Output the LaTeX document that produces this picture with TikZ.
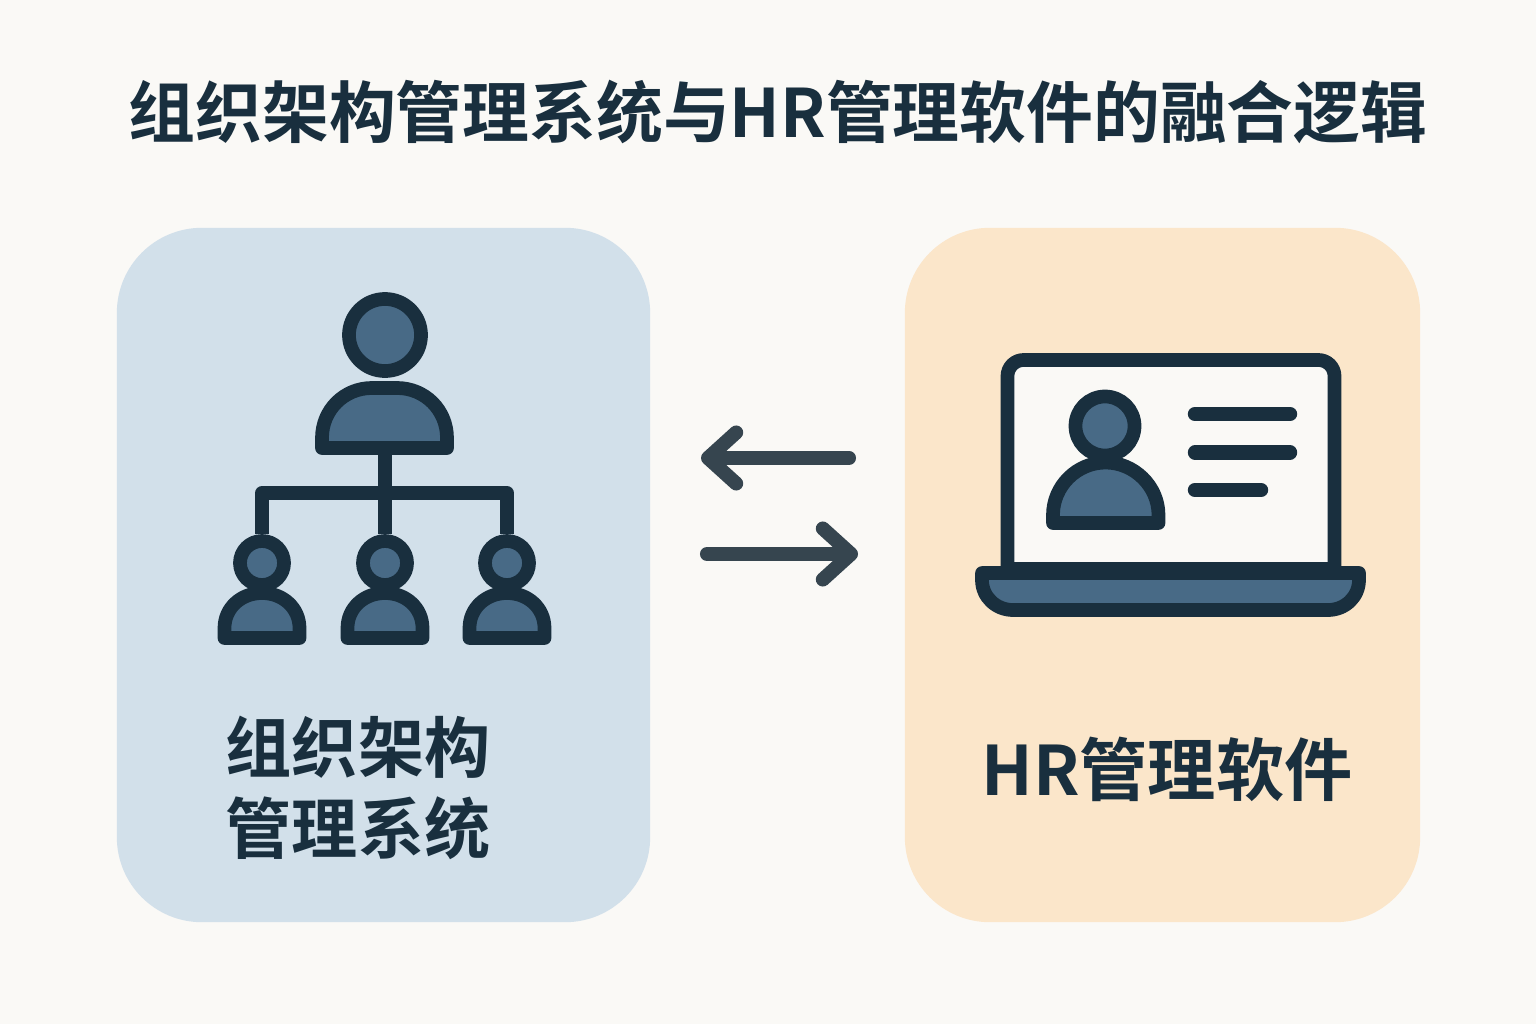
\documentclass[tikz,border=0pt]{standalone}
\usepackage{fontspec}
\setmainfont{Noto Sans CJK SC}[BoldFont={* Bold}]
\usetikzlibrary{arrows.meta}
\definecolor{pagebg}{HTML}{FAF9F6}
\definecolor{orgblue}{HTML}{D2E0EA}
\definecolor{hrpeach}{HTML}{FBE6CA}
\definecolor{inkdark}{HTML}{192F3E}
\definecolor{iconblue}{HTML}{486A86}
\definecolor{arrowgrey}{HTML}{36454F}
\tikzset{
    panel/.style={rectangle, rounded corners=0.85cm, minimum height=6.94cm},
    iconline/.style={draw=inkdark, fill=iconblue, line width=3.9pt, line join=round},
    headnode/.style={circle, iconline, inner sep=0pt},
    orgline/.style={draw=inkdark, line width=3.9pt, line join=round},
    textline/.style={draw=inkdark, line width=4.1pt, line cap=round},
    flowarrow/.style={draw=arrowgrey, line width=4pt, line cap=round,
        -{Straight Barb[round, length=8pt, width=14.5pt]}},
    headtext/.style={text=inkdark, font=\bfseries\fontsize{19pt}{23pt}\selectfont},
    labeltext/.style={text=inkdark, font=\bfseries\fontsize{18.8pt}{23pt}\selectfont, align=left}
}
\begin{document}
\begin{tikzpicture}[x=0.01cm, y=-0.01cm]
    \useasboundingbox (0,0) rectangle (1536,1024);
    \fill [pagebg] (0,0) rectangle (1536,1024);

    \node [headtext] (title) at (778,112) {组织架构管理系统与HR管理软件的融合逻辑};

    \node [panel, fill=orgblue, minimum width=5.33cm] (orgpanel) at (383.5,575) {};
    \node [panel, fill=hrpeach, minimum width=5.15cm] (hrpanel) at (1162.5,575) {};

    % org chart, top person
    \draw [iconline] (322,448) -- (322,438) .. controls (322,410) and (344,388) .. (372,388)
        -- (397,388) .. controls (425,388) and (447,410) .. (447,438) -- (447,448) -- cycle;
    \coordinate (chiefbody) at (385,455);
    \node [headnode, minimum size=0.72cm] (chiefhead) at (385,335) {};

    % org chart, three staff
    \foreach \px/\pname in {262/staffa, 385/staffb, 507/staffc} {
        \begin{scope}[shift={(\px,593)}]
            \draw [iconline] (-37.5,45) -- (-37.5,35) .. controls (-37.5,15) and (-21,0) .. (0,0)
                .. controls (21,0) and (37.5,15) .. (37.5,35) -- (37.5,45) -- cycle;
        \end{scope}
        \node [headnode, minimum size=0.44cm] (\pname) at (\px,563) {};
    }
    \coordinate (busa) at (262,493);
    \coordinate (busb) at (385,493);
    \coordinate (busc) at (507,493);
    \draw [orgline] (chiefbody) -- (staffb);
    \draw [orgline] (staffa) -- (busa) -- (busc) -- (staffc);

    % arrows between the panels
    \coordinate (backstart) at (849,458);
    \coordinate (backend) at (701,458);
    \coordinate (forthstart) at (707,554);
    \coordinate (forthend) at (858,554);
    \draw [flowarrow] (backstart) -- (backend);
    \draw [flowarrow] (forthstart) -- (forthend);

    % laptop
    \draw [draw=inkdark, fill=pagebg, line width=3.9pt, line join=round]
        (1007.5,569) -- (1007.5,450) [rounded corners=0.16cm] -- (1007.5,360) -- (1334.5,360)
        -- (1334.5,450) [sharp corners] -- (1334.5,569) -- cycle;
    \draw [iconline] (982,573) -- (1359,573) -- (1359,580) .. controls (1359,597) and (1345,610) .. (1328,610)
        -- (1013,610) .. controls (996,610) and (982,597) .. (982,580) -- cycle;

    % laptop person
    \draw [iconline] (1053,523) -- (1053,515) .. controls (1053,486) and (1077,462.5) .. (1105.5,462.5)
        .. controls (1134,462.5) and (1158.5,486) .. (1158.5,515) -- (1158.5,523) -- cycle;
    \node [headnode, minimum size=0.59cm] (cardhead) at (1105,426) {};

    % lines on the screen
    \coordinate (linea) at (1195,414);
    \coordinate (lineaend) at (1290,414);
    \coordinate (lineb) at (1195,452.5);
    \coordinate (linebend) at (1290,452.5);
    \coordinate (linec) at (1195,490);
    \coordinate (linecend) at (1261,490);
    \draw [textline] (linea) -- (lineaend);
    \draw [textline] (lineb) -- (linebend);
    \draw [textline] (linec) -- (linecend);

    \node [labeltext] (orglabel) at (358,788) {组织架构\\管理系统};
    \node [labeltext, font=\bfseries\fontsize{19.4pt}{23pt}\selectfont] (hrlabel) at (1167,769) {HR管理软件};
\end{tikzpicture}
\end{document}
